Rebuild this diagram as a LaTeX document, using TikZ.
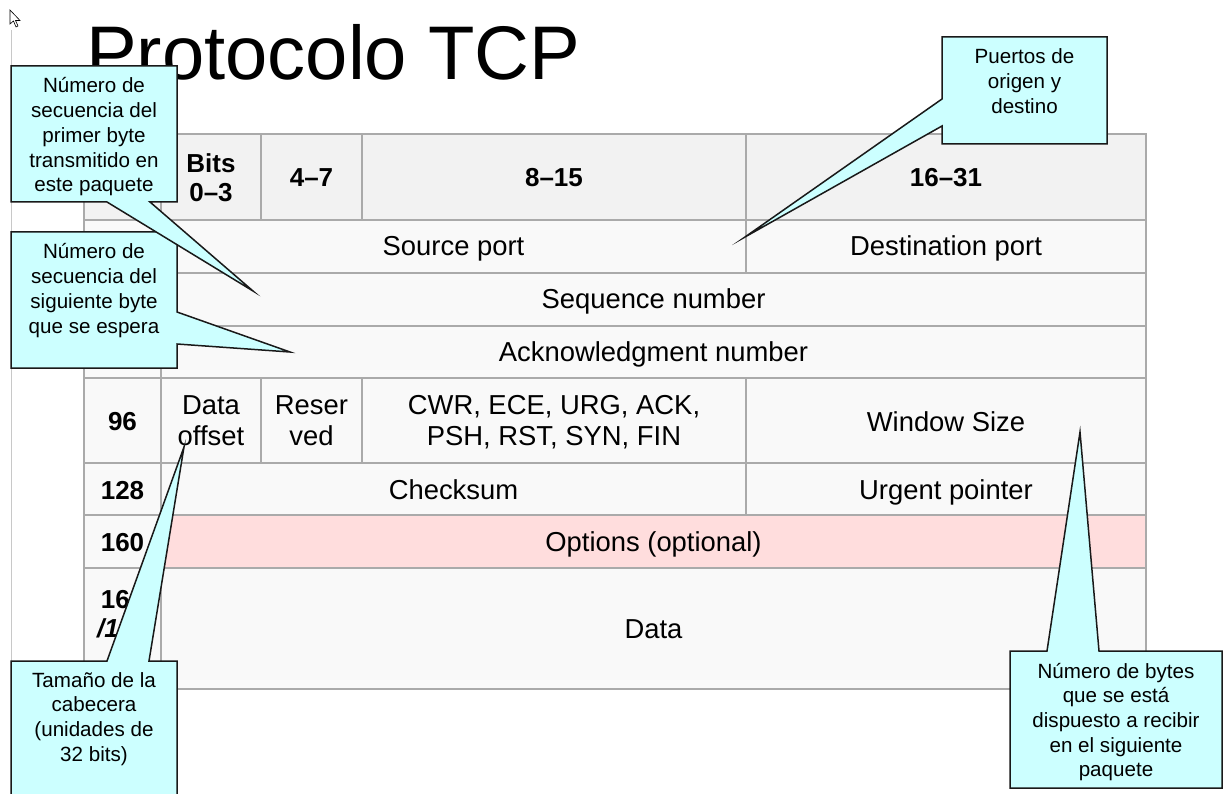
\documentclass[tikz,border=0pt]{standalone}
\usepackage{fontspec}
\setmainfont{Liberation Sans}
\definecolor{hdrc}{HTML}{F2F2F2}
\definecolor{bodyc}{HTML}{F9F9F9}
\definecolor{optc}{HTML}{FFDDDD}
\definecolor{gridc}{HTML}{AAAAAA}
\definecolor{callc}{HTML}{CCFFFF}
\definecolor{edgec}{HTML}{C8C8C8}
\newcommand{\mlines}[1]{\begin{tabular}[t]{@{}c@{}}#1\end{tabular}}
\begin{document}
\begin{tikzpicture}[x=1pt,y=-1pt,
  cellhdr/.style={draw=gridc, line width=1.5pt, fill=hdrc},
  cellbody/.style={draw=gridc, line width=1.5pt, fill=bodyc},
  cellopt/.style={draw=gridc, line width=1.5pt, fill=optc},
  txt/.style={font=\fontsize{27.4}{30.5}\selectfont, inner sep=0pt, anchor=base},
  btxt/.style={font=\fontsize{26}{29.5}\selectfont\bfseries, inner sep=0pt, anchor=base},
  callout/.style={draw=black!90, fill=callc, line width=1.5pt, line join=miter, miter limit=30},
  ctxt/.style={font=\fontsize{20.6}{24.7}\selectfont, inner sep=0pt, anchor=base}]
\useasboundingbox (0,0) rectangle (1223,794);
\fill[white] (0,0) rectangle (1223,794);
\clip (0,0) rectangle (1223,794);

% slide edge and cursor
\draw[edgec, line width=1pt] (11,30) -- (11,794);
\draw[fill=white, line width=0.6pt] (10,10) -- (10,24) -- (13.5,21) -- (16,27) -- (18,26) -- (15.5,20.5) -- (20,20.5) -- cycle;

% header row
\draw[cellhdr] (84,134) rectangle (161,220);
\draw[cellhdr] (161,134) rectangle (261,220);
\draw[cellhdr] (261,134) rectangle (362,220);
\draw[cellhdr] (362,134) rectangle (746,220);
\draw[cellhdr] (746,134) rectangle (1146,220);
% row 0
\draw[cellbody] (84,220) rectangle (161,273);
\draw[cellbody] (161,220) rectangle (746,273);
\draw[cellbody] (746,220) rectangle (1146,273);
% row 32
\draw[cellbody] (84,273) rectangle (161,326);
\draw[cellbody] (161,273) rectangle (1146,326);
% row 64
\draw[cellbody] (84,326) rectangle (161,378);
\draw[cellbody] (161,326) rectangle (1146,378);
% row 96
\draw[cellbody] (84,378) rectangle (161,463);
\draw[cellbody] (161,378) rectangle (261,463);
\draw[cellbody] (261,378) rectangle (362,463);
\draw[cellbody] (362,378) rectangle (746,463);
\draw[cellbody] (746,378) rectangle (1146,463);
% row 128
\draw[cellbody] (84,463) rectangle (161,515);
\draw[cellbody] (161,463) rectangle (746,515);
\draw[cellbody] (746,463) rectangle (1146,515);
% row 160
\draw[cellbody] (84,515) rectangle (161,568);
\draw[cellopt] (161,515) rectangle (1146,568);
% data row
\draw[cellbody] (84,568) rectangle (161,689);
\draw[cellbody] (161,568) rectangle (1146,689);

% table texts
\node[btxt] (bits) at (211,172.3) {\mlines{Bits\\0–3}};
\node[btxt] (b47) at (311.5,187) {4–7};
\node[btxt] (b815) at (554,187) {8–15};
\node[btxt] (b1631) at (946,187) {16–31};
\node[txt] (src) at (453.5,256) {Source port};
\node[txt] (dst) at (946,256) {Destination port};
\node[txt] (seq) at (653.5,308.5) {Sequence number};
\node[txt] (ack) at (653.5,361.5) {Acknowledgment number};
\node[btxt] (r96) at (122.5,430.5) {96};
\node[txt] (doff) at (211,414.5) {\mlines{Data\\offset}};
\node[txt] (resv) at (311.5,414.5) {\mlines{Reser\\ved}};
\node[txt] (flags) at (554,414.5) {\mlines{CWR, ECE, URG, ACK,\\PSH, RST, SYN, FIN}};
\node[txt] (win) at (946,431) {Window Size};
\node[btxt] (r128) at (122.5,499) {128};
\node[txt] (chk) at (453.5,499) {Checksum};
\node[txt] (urg) at (946,499) {Urgent pointer};
\node[btxt] (r160) at (122.5,551) {160};
\node[txt] (opt) at (653.5,551) {Options (optional)};
\node[btxt] (r192) at (122.5,608) {\mlines{160\\\textit{/192}\\+}};
\node[txt] (data) at (653.5,638) {Data};

% title
\node[font=\fontsize{76}{90}\selectfont, inner sep=0pt, anchor=base west] (title) at (86,80) {Protocolo TCP};

% callouts
\draw[callout] (11,232) -- (177,232) -- (177,312) -- (290,352) -- (177,344) -- (177,368) -- (11,368) -- cycle;
\node[ctxt] (c2) at (94,259) {\mlines{Número de\\secuencia del\\siguiente byte\\que se espera}};

\draw[callout] (11,66) -- (177,66) -- (177,202) -- (150,202) -- (253,291) -- (107,202) -- (11,202) -- cycle;
\node[ctxt] (c1) at (94,93) {\mlines{Número de\\secuencia del\\primer byte\\transmitido en\\este paquete}};

\draw[callout] (942,37) -- (1107,37) -- (1107,144) -- (942,144) -- (942,126) -- (745,237) -- (942,99) -- cycle;
\node[ctxt] (c3) at (1024.5,64) {\mlines{Puertos de\\origen y\\destino}};

\draw[callout] (1010,651) -- (1047,651) -- (1080,432) -- (1099,651) -- (1222,651) -- (1222,788) -- (1010,788) -- cycle;
\node[ctxt] (c4) at (1116,678) {\mlines{Número de bytes\\que se está\\dispuesto a recibir\\en el siguiente\\paquete}};

\draw[callout] (11,661) -- (107,661) -- (184,447) -- (149,661) -- (177,661) -- (177,805) -- (11,805) -- cycle;
\node[ctxt] (c5) at (94,687) {\mlines{Tamaño de la\\cabecera\\(unidades de\\32 bits)}};
\end{tikzpicture}
\end{document}
